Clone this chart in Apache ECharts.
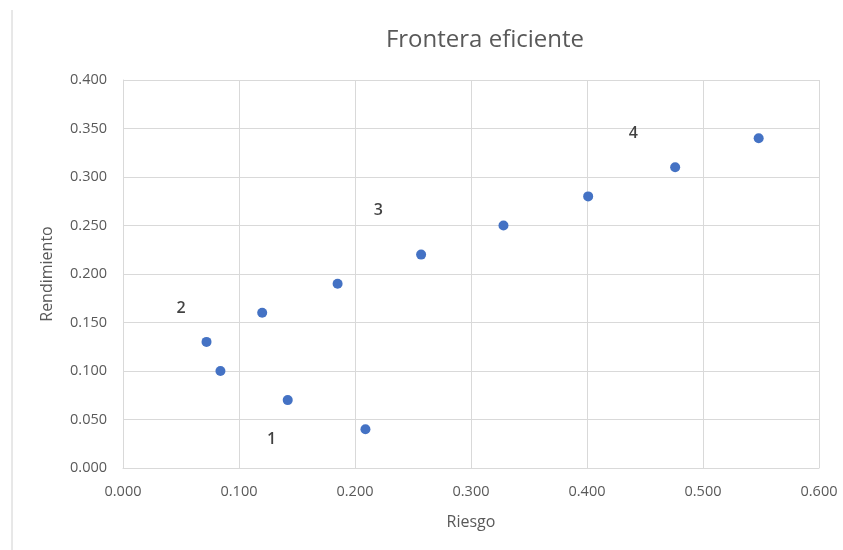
<!DOCTYPE html>
<html>
<head>
<meta charset="utf-8">
<script src="https://cdn.jsdelivr.net/npm/echarts@6/dist/echarts.min.js"></script>
<style>html,body{margin:0;padding:0;background:#fff}#c{width:843px;height:550px}</style>
</head>
<body>
<div id="c"></div>
<script>
const riesgo = [0.072, 0.084, 0.120, 0.142, 0.185, 0.209, 0.257, 0.328, 0.401, 0.476, 0.548];
const rendimiento = [0.130, 0.100, 0.160, 0.070, 0.190, 0.040, 0.220, 0.250, 0.280, 0.310, 0.340];
const annotations = ['1', '2', '3', '4'];
const annotX = [0.128, 0.050, 0.220, 0.440];
const annotY = [0.029, 0.165, 0.266, 0.345];
const xTicks = [0, 0.1, 0.2, 0.3, 0.4, 0.5, 0.6];
const yTicks = [0, 0.05, 0.1, 0.15, 0.2, 0.25, 0.3, 0.35, 0.4];

const FONT = '"Open Sans", Lato, sans-serif';
const chart = echarts.init(document.getElementById('c'));
chart.setOption({
  animation: false,
  backgroundColor: '#fff',
  title: {
    text: 'Frontera eficiente', left: 480, top: 23, textAlign: 'center',
    textStyle: { fontFamily: FONT, fontSize: 24, fontWeight: 'normal', color: '#595959' }
  },
  grid: { left: 123, right: 24, top: 80, bottom: 82 },
  xAxis: {
    type: 'value', min: xTicks[0], max: xTicks[xTicks.length - 1], interval: 0.1,
    name: 'Riesgo', nameLocation: 'middle', nameGap: 46,
    nameTextStyle: { fontFamily: FONT, fontSize: 16, color: '#595959' },
    axisLine: { show: true, lineStyle: { color: '#d9d9d9' } },
    axisTick: { show: false },
    axisLabel: { formatter: v => v.toFixed(3), fontFamily: FONT, fontSize: 14.5, color: '#595959', margin: 16 },
    splitLine: { show: true, lineStyle: { color: '#d9d9d9' } }
  },
  yAxis: {
    type: 'value', min: yTicks[0], max: yTicks[yTicks.length - 1], interval: 0.05,
    name: 'Rendimiento', nameLocation: 'middle', nameGap: 68, nameRotate: 90,
    nameTextStyle: { fontFamily: FONT, fontSize: 16, color: '#595959' },
    axisLine: { show: true, lineStyle: { color: '#d9d9d9' } },
    axisTick: { show: false },
    axisLabel: { formatter: v => v.toFixed(3), fontFamily: FONT, fontSize: 14.5, color: '#595959', margin: 16 },
    splitLine: { show: true, lineStyle: { color: '#d9d9d9' } }
  },
  graphic: [{
    type: 'line', shape: { x1: 12, y1: 10, x2: 12, y2: 550 },
    style: { stroke: '#d0d0d0', lineWidth: 1 }
  }],
  series: [{
    type: 'scatter', symbolSize: 10,
    itemStyle: { color: '#4472C4', opacity: 1 },
    data: riesgo.map((x, i) => [x, rendimiento[i]])
  }, {
    type: 'scatter', symbolSize: 0, silent: true,
    label: { show: true, position: 'inside', formatter: p => p.data[2],
      fontFamily: FONT, fontSize: 16, fontWeight: 600, color: '#111' },
    data: annotations.map((t, i) => [annotX[i], annotY[i], t])
  }]
});
</script>
</body>
</html>
